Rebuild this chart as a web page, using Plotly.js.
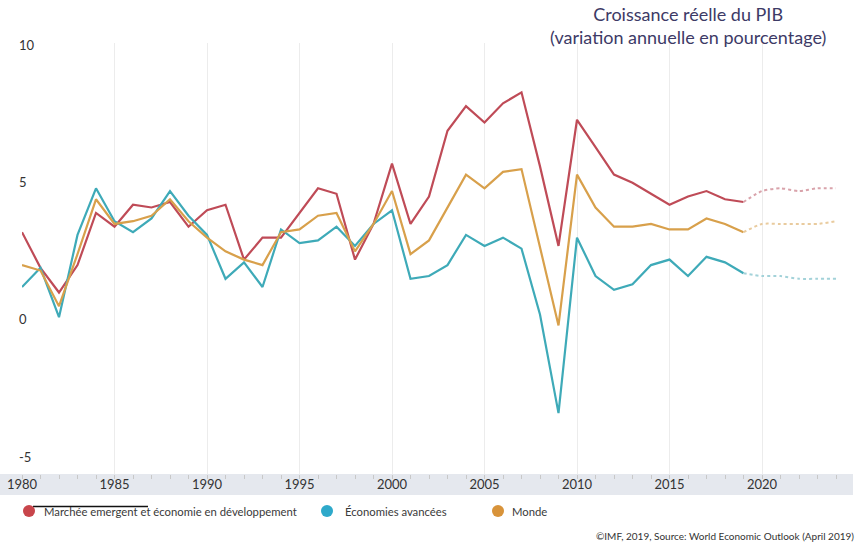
<!DOCTYPE html>
<html>
<head>
<meta charset="utf-8">
<script src="https://cdn.plot.ly/plotly-3.0.1.min.js"></script>
<style>
html,body{margin:0;padding:0;background:#fff;}
#chart{width:859px;height:547px;}
</style>
</head>
<body>
<div id="chart"></div>
<script>
// ---- Data ----
var years = [1980,1981,1982,1983,1984,1985,1986,1987,1988,1989,
             1990,1991,1992,1993,1994,1995,1996,1997,1998,1999,
             2000,2001,2002,2003,2004,2005,2006,2007,2008,2009,
             2010,2011,2012,2013,2014,2015,2016,2017,2018,2019];
var emergentValues = [3.2,1.9,1.0,2.0,3.9,3.4,4.2,4.1,4.3,3.4,
                      4.0,4.2,2.2,3.0,3.0,3.9,4.8,4.6,2.2,3.5,
                      5.7,3.5,4.5,6.9,7.8,7.2,7.9,8.3,5.6,2.7,
                      7.3,6.3,5.3,5.0,4.6,4.2,4.5,4.7,4.4,4.3];
var advancedValues = [1.2,1.9,0.1,3.1,4.8,3.6,3.2,3.7,4.7,3.8,
                      3.1,1.5,2.1,1.2,3.3,2.8,2.9,3.4,2.7,3.5,
                      4.0,1.5,1.6,2.0,3.1,2.7,3.0,2.6,0.2,-3.4,
                      3.0,1.6,1.1,1.3,2.0,2.2,1.6,2.3,2.1,1.7];
var worldValues = [2.0,1.8,0.5,2.4,4.4,3.5,3.6,3.8,4.4,3.6,
                   3.0,2.5,2.2,2.0,3.2,3.3,3.8,3.9,2.5,3.5,
                   4.7,2.4,2.9,4.1,5.3,4.8,5.4,5.5,2.7,-0.2,
                   5.3,4.1,3.4,3.4,3.5,3.3,3.3,3.7,3.5,3.2];
var projYears = [2019,2020,2021,2022,2023,2024];
var emergentProj = [4.3,4.7,4.8,4.7,4.8,4.8];
var advancedProj = [1.7,1.6,1.6,1.5,1.5,1.5];
var worldProj = [3.2,3.5,3.5,3.5,3.5,3.6];

var seriesNames = ['Marchée emergent et économie en développement','Économies avancées','Monde'];
var xTicks = [1980,1985,1990,1995,2000,2005,2010,2015,2020];
var yTicks = [-5,0,5,10];
var titleText = 'Croissance réelle du PIB<br>(variation annuelle en pourcentage)';
var sourceText = '©IMF, 2019, Source: World Economic Outlook (April 2019)';

// ---- Styles ----
var lineColors = ['#bf4b57','#3eaab8','#d8a04b'];
var projColors = ['#d9a3ab','#a3d2d9','#e9cb9e'];
var dotColors = ['#c8454b','#2ea9ca','#d8933a'];
var FONT = 'Lato, "Open Sans", sans-serif';

var traces = [
  {x: years, y: emergentValues, mode:'lines', line:{color:lineColors[0], width:2.2}, name:seriesNames[0], showlegend:false},
  {x: years, y: advancedValues, mode:'lines', line:{color:lineColors[1], width:2.2}, name:seriesNames[1], showlegend:false},
  {x: years, y: worldValues, mode:'lines', line:{color:lineColors[2], width:2.2}, name:seriesNames[2], showlegend:false},
  {x: projYears, y: emergentProj, mode:'lines', line:{color:projColors[0], width:2, dash:'dot', shape:'spline', smoothing:0.6}, showlegend:false},
  {x: projYears, y: advancedProj, mode:'lines', line:{color:projColors[1], width:2, dash:'dot', shape:'spline', smoothing:0.6}, showlegend:false},
  {x: projYears, y: worldProj, mode:'lines', line:{color:projColors[2], width:2, dash:'dot', shape:'spline', smoothing:0.6}, showlegend:false}
];

// geometry helpers (pixels)
var L = 22, R = 7, T = 43, B = 73, W = 859, H = 547;
var plotW = W - L - R, plotH = H - T - B;
function px2paperX(p){ return (p - L) / plotW; }
function px2paperY(p){ return (H - B - p) / plotH; }

var legendItems = [
  {dot:29, text:42},
  {dot:327, text:343},
  {dot:498, text:510}
];
var legendY = 511;

var shapes = [
  {type:'rect', xref:'paper', yref:'paper', x0:px2paperX(0), x1:px2paperX(853), y0:px2paperY(495), y1:px2paperY(474),
   fillcolor:'#e5e8ee', line:{width:0}, layer:'below'},
  {type:'line', xref:'paper', yref:'paper', x0:px2paperX(33), x1:px2paperX(148), y0:px2paperY(506.5), y1:px2paperY(506.5),
   line:{color:'#111', width:1.3}}
];
var annotations = [];
legendItems.forEach(function(it, i){
  shapes.push({type:'circle', xref:'paper', yref:'paper', xsizemode:'pixel', ysizemode:'pixel',
    xanchor:px2paperX(it.dot), yanchor:px2paperY(legendY), x0:-6, x1:6, y0:-6, y1:6,
    fillcolor:dotColors[i], line:{width:0}});
  annotations.push({xref:'paper', yref:'paper', x:px2paperX(it.text), y:px2paperY(legendY),
    xanchor:'left', yanchor:'middle', showarrow:false, text:seriesNames[i],
    font:{family:FONT, size:11.3, color:'#3a3a3a'}});
});
annotations.push({xref:'paper', yref:'paper', x:px2paperX(856), y:px2paperY(536),
  xanchor:'right', yanchor:'middle', showarrow:false, text:sourceText,
  font:{family:FONT, size:10, color:'#333'}});
// chart title (two lines)
annotations.push({xref:'paper', yref:'paper', x:px2paperX(688), y:px2paperY(1),
  xanchor:'center', yanchor:'top', showarrow:false, text:titleText, align:'center',
  font:{family:FONT, size:18, color:'#3d3a66'}});

var layout = {
  width: W, height: H,
  margin:{l:L, r:R, t:T, b:B, pad:0},
  paper_bgcolor:'#fff', plot_bgcolor:'#fff',
  font:{family:FONT, color:'#333'},
  showlegend:false,
  xaxis:{
    range:[1980, 1980 + plotW/18.5],
    tickvals:xTicks, ticktext:xTicks.map(String),
    showgrid:true, gridcolor:'#ececec', gridwidth:1,
    zeroline:false, showline:false,
    ticks:'outside', ticklen:4, tickcolor:'#c8c8c8',
    minor:{dtick:1, tick0:1980, ticks:'outside', ticklen:4, tickcolor:'#c8c8c8', showgrid:false},
    ticklabeloverflow:'allow', ticklabelstandoff:-6,
    tickfont:{family:FONT, size:13, color:'#333'}
  },
  yaxis:{
    range:[-5.62, 10.1],
    tickvals:yTicks, ticktext:yTicks.map(String),
    showgrid:false, zeroline:false, showline:false,
    ticklabelposition:'inside', ticklabelstandoff:-6, ticklabeloverflow:'allow',
    tickfont:{family:FONT, size:13, color:'#333'}
  },
  shapes: shapes,
  annotations: annotations
};

Plotly.newPlot('chart', traces, layout, {displayModeBar:false, staticPlot:true});
</script>
</body>
</html>
